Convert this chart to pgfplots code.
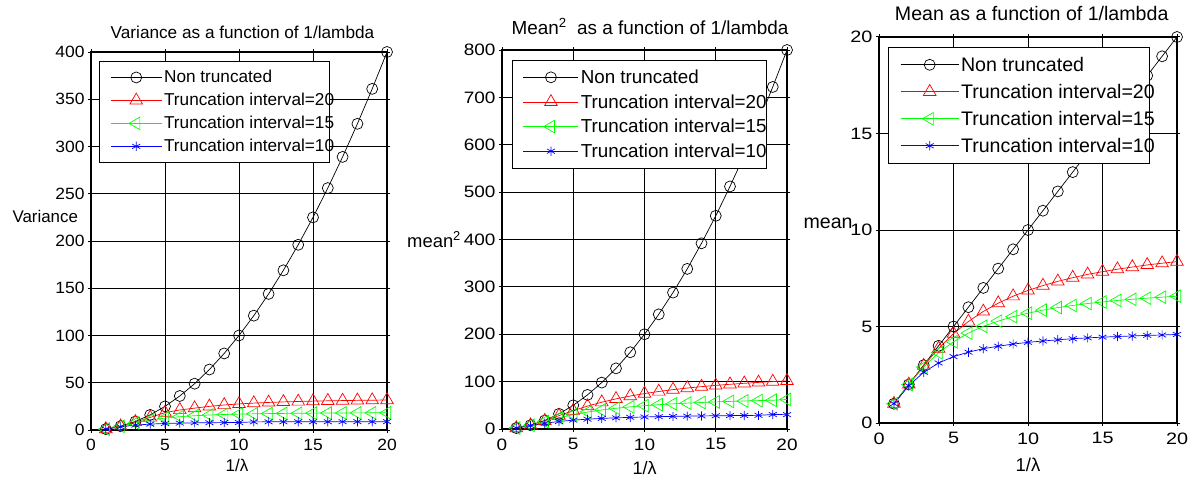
\documentclass[border=0pt]{standalone}
\usepackage{fontspec}
\setmainfont{Liberation Sans}
\newfontfamily\ticka[FakeStretch=1.07]{Liberation Sans}
\newfontfamily\tickb[FakeStretch=1.15]{Liberation Sans}
\newfontfamily\tickc[FakeStretch=1.20]{Liberation Sans}
\usepackage{pgfplots}
\usepackage{pgfplotstable}
\pgfplotsset{compat=1.18}

\pgfplotstableread{
x non t20 t15 t10
1 1 1.00 1.00 0.99
2 4 3.98 3.88 3.32
3 9 8.49 7.46 5.16
4 16 13.27 10.45 6.26
5 25 18.40 12.59 6.90
6 36 21.20 14.08 7.29
7 49 23.14 15.12 7.55
8 64 25.03 15.86 7.72
9 81 26.48 16.41 7.84
10 100 27.59 16.82 7.93
11 121 28.47 17.13 8.60
12 144 29.17 17.37 8.65
13 169 29.74 17.56 8.69
14 196 30.19 17.71 8.72
15 225 30.56 17.85 8.75
16 256 30.88 17.95 8.77
17 289 31.14 18.04 8.79
18 324 31.37 18.11 8.81
19 361 31.55 18.18 8.82
20 400 31.73 18.23 8.83
}\vardata

\pgfplotstableread{
x non t20 t15 t10
1 2 2.00 2.00 1.99
2 8 7.98 7.84 7.05
3 18 17.33 15.86 12.08
4 32 28.20 23.69 15.91
5 50 38.81 30.35 18.70
6 72 48.33 35.78 20.77
7 98 56.56 40.18 22.36
8 128 63.61 43.77 23.59
9 162 69.63 46.74 24.60
10 200 74.78 49.22 25.41
11 242 79.23 51.31 26.09
12 288 83.09 53.09 26.66
13 338 86.47 54.63 27.14
14 392 89.42 55.97 27.57
15 450 92.04 57.17 27.94
16 512 94.38 58.21 28.26
17 578 96.47 59.14 28.55
18 648 98.36 59.97 28.82
19 722 100.06 60.73 30.60
20 800 101.62 62.41 30.30
}\msqdata

\pgfplotstableread{
x non t20 t15 t10
1 1 1.00 1.00 1.00
2 2 2.00 1.99 1.93
3 3 2.97 2.90 2.63
4 4 3.86 3.64 3.11
5 5 4.63 4.21 3.44
6 6 5.26 4.66 3.67
7 7 5.78 5.01 3.85
8 8 6.21 5.28 3.98
9 9 6.57 5.51 4.09
10 10 6.87 5.69 4.18
11 11 7.12 5.85 4.25
12 12 7.34 5.98 4.31
13 13 7.53 6.09 4.37
14 14 7.70 6.19 4.41
15 15 7.84 6.27 4.45
16 16 7.97 6.35 4.48
17 17 8.08 6.41 4.51
18 18 8.19 6.47 4.54
19 19 8.28 6.52 4.56
20 20 8.36 6.57 4.59
}\meandata

\pgfplotsset{
  mystyle/.style={
    scale only axis, anchor=south west, clip=false,
    xmin=0, xmax=20, xtick={0,5,...,20},
    grid=major,
    major grid style={black, line width=1pt},
    axis line style={black, line width=1.4pt},
    tick style={black, line width=1pt},
    tick align=outside, major tick length=3pt,
    /pgf/number format/assume math mode=true,
    legend cell align=left,
    ylabel style={rotate=-90, anchor=base west},
    title style={anchor=base},
  },
  pnon/.style={black, line width=0.7pt, mark=o, mark size=5.5pt, mark options={solid, line width=0.7pt}},
  p20/.style={red, line width=0.7pt, mark=triangle, mark size=7.3pt, mark options={solid, line width=0.7pt}},
  p15/.style={green, line width=0.7pt, mark=triangle, mark size=7.3pt, mark options={solid, line width=0.7pt, rotate=90}},
  p10/.style={blue, line width=0.7pt, mark=asterisk, mark size=4.6pt, mark options={solid, line width=0.7pt}},
}

\begin{document}
\begin{tikzpicture}
\path[use as bounding box] (0pt,0pt) rectangle (1198pt,480pt);

% ---------------- Panel 1 ----------------
\begin{axis}[mystyle,
  at={(91pt,50pt)}, width=296pt, height=378pt,
  ymin=0, ymax=400, ytick={0,50,...,400},
  ticklabel style={font=\fontsize{16.3}{19}\ticka},
  xticklabel style={yshift=-3pt},
  title={Variance as a function of 1/lambda},
  title style={at={(axis description cs:0.5,1)}, yshift=8pt, xshift=3.5pt, font=\fontsize{17.2}{20}\selectfont},
  ylabel={Variance},
  ylabel style={at={(axis description cs:-0.277,0.55)}, font=\fontsize{16.9}{20}\selectfont},
  xlabel={1/λ},
  xlabel style={at={(axis description cs:0.5,0)}, anchor=base, yshift=-41pt, xshift=-2pt, font=\fontsize{17}{20}\selectfont},
  legend style={at={(axis description cs:0.027,0.976)}, anchor=north west, draw=black, line width=0.8pt, fill=white,
    inner xsep=11pt, inner ysep=7pt, font=\fontsize{17.2}{20}\selectfont, row sep=5pt},
  legend image code/.code={\draw[mark repeat=2,mark phase=2] plot coordinates {(0pt,0pt) (25.5pt,0pt) (51pt,0pt)};},
]
\addplot[pnon] table[x=x,y=non] {\vardata};
\addlegendentry{\makebox[152pt][l]{Non truncated}}
\addplot[p20] table[x=x,y=t20] {\vardata};
\addlegendentry{\makebox[152pt][l]{Truncation interval=20}}
\addplot[p15] table[x=x,y=t15] {\vardata};
\addlegendentry{\makebox[152pt][l]{Truncation interval=15}}
\addplot[p10] table[x=x,y=t10] {\vardata};
\addlegendentry{\makebox[152pt][l]{Truncation interval=10}}
\end{axis}

% ---------------- Panel 2 ----------------
\begin{axis}[mystyle,
  at={(502pt,51pt)}, width=285pt, height=379pt,
  ymin=0, ymax=800, ytick={0,100,...,800},
  ticklabel style={font=\fontsize{16.5}{19}\tickb},
  xticklabel style={yshift=-3pt},
  title={Mean\textsuperscript{2}\ \ as a function of 1/lambda},
  title style={at={(axis description cs:0.5,1)}, yshift=10pt, xshift=5.5pt, font=\fontsize{18.9}{22}\selectfont},
  ylabel={mean\textsuperscript{2}},
  ylabel style={at={(axis description cs:-0.345,0.48)}, font=\fontsize{18.4}{22}\selectfont},
  xlabel={1/λ},
  xlabel style={at={(axis description cs:0.5,0)}, anchor=base, yshift=-45pt, font=\fontsize{18}{21}\selectfont},
  legend style={at={(axis description cs:0.034,0.974)}, anchor=north west, draw=black, line width=0.8pt, fill=white,
    inner xsep=11pt, inner ysep=7.5pt, font=\fontsize{18.8}{22}\selectfont, row sep=5.5pt},
  legend image code/.code={\draw[mark repeat=2,mark phase=2] plot coordinates {(0pt,0pt) (27.5pt,0pt) (55pt,0pt)};},
]
\addplot[pnon] table[x=x,y=non] {\msqdata};
\addlegendentry{\makebox[173pt][l]{Non truncated}}
\addplot[p20] table[x=x,y=t20] {\msqdata};
\addlegendentry{\makebox[173pt][l]{Truncation interval=20}}
\addplot[p15] table[x=x,y=t15] {\msqdata};
\addlegendentry{\makebox[173pt][l]{Truncation interval=15}}
\addplot[p10] table[x=x,y=t10] {\msqdata};
\addlegendentry{\makebox[173pt][l]{Truncation interval=10}}
\end{axis}

% ---------------- Panel 3 ----------------
\begin{axis}[mystyle,
  at={(879pt,57pt)}, width=298pt, height=386pt,
  ymin=0, ymax=20, ytick={0,5,...,20},
  ticklabel style={font=\fontsize{16.5}{19}\tickc},
  xticklabel style={yshift=-3pt},
  title={Mean as a function of 1/lambda},
  title style={at={(axis description cs:0.5,1)}, yshift=10.5pt, xshift=3.7pt, font=\fontsize{19.6}{23}\selectfont},
  ylabel={mean},
  ylabel style={at={(axis description cs:-0.265,0.505)}, font=\fontsize{19.6}{23}\selectfont},
  xlabel={1/λ},
  xlabel style={at={(axis description cs:0.5,0)}, anchor=base, yshift=-48pt, font=\fontsize{18.5}{22}\selectfont},
  legend style={at={(axis description cs:0.030,0.974)}, anchor=north west, draw=black, line width=0.8pt, fill=white,
    inner xsep=12pt, inner ysep=7.5pt, font=\fontsize{19.6}{23}\selectfont, row sep=7.3pt},
  legend image code/.code={\draw[mark repeat=2,mark phase=2] plot coordinates {(0pt,0pt) (29pt,0pt) (58pt,0pt)};},
]
\addplot[pnon] table[x=x,y=non] {\meandata};
\addlegendentry{\makebox[174pt][l]{Non truncated}}
\addplot[p20] table[x=x,y=t20] {\meandata};
\addlegendentry{\makebox[174pt][l]{Truncation interval=20}}
\addplot[p15] table[x=x,y=t15] {\meandata};
\addlegendentry{\makebox[174pt][l]{Truncation interval=15}}
\addplot[p10] table[x=x,y=t10] {\meandata};
\addlegendentry{\makebox[174pt][l]{Truncation interval=10}}
\end{axis}
\end{tikzpicture}
\end{document}
